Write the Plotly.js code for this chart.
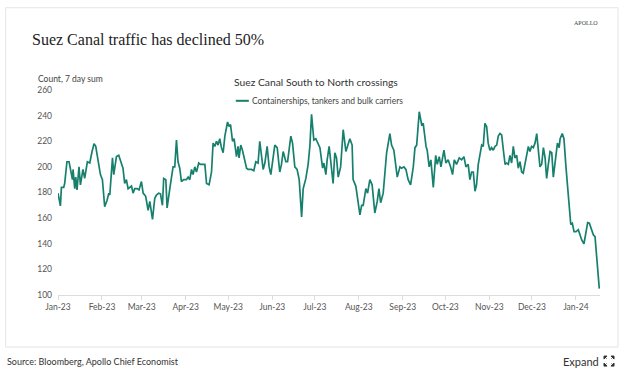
<!DOCTYPE html>
<html>
<head>
<meta charset="utf-8">
<script src="https://cdn.plot.ly/plotly-3.0.1.min.js"></script>
<style>
html,body{margin:0;padding:0;background:#fff;}
#chart{width:624px;height:376px;}
</style>
</head>
<body>
<div id="chart"></div>
<script>
// Days since 2023-01-01 and 7-day sum of crossings
var dayOffset = [0,1.7,2.4,4,4.7,6.3,7.8,9.4,10.2,10.6,11.8,12.5,13.4,14.8,15.8,17.6,18.8,20.7,22.4,24,25.4,26.6,28.2,29.9,31.3,32.9,34.6,35.8,36.5,38.4,39.3,41.2,42.8,44.2,45.8,47,48.2,49.4,51.8,52.9,54.1,55.7,57.1,58.8,60,61.8,62.8,63.5,64.7,66.6,68.2,69.4,71,72.2,73.6,74.5,76,76.9,78.8,80,81.1,82.3,83.5,84.6,85.8,87,88.6,90.5,91.7,92.9,94.1,95.2,96.4,97.6,99.2,100.4,102.3,103.5,104.7,106.5,108.2,109.3,110.5,111.7,112.8,114,115.2,116.4,117.6,119.5,120.6,121.6,123,124.1,125.8,126.9,127.6,128.8,130,131.7,132.9,134,136.4,138,139.4,141,142.2,143.4,144.6,145.8,147.4,148.8,150,151.6,152.8,154.5,156.3,157.5,158.7,160.6,161.8,164.1,165.3,166.9,168.5,170,171.7,172.8,174.7,176.3,177.5,178.7,180.3,181.7,183.4,184.6,186.5,187.4,188.8,189.7,191.1,193.9,195.1,196.3,197.5,199.2,201,202.9,205.7,207.3,208,209.9,212.8,214,215.1,217,218.2,219.8,221.4,223.3,225,226.2,227.4,229.2,231.6,232.7,233.9,235.1,236.7,238.2,239.1,241,242.2,243.8,245.2,246.8,248.5,250.4,251.6,252.8,254.6,256.3,257.4,259.4,260.2,261.6,262.8,264.5,266.2,267.3,268.7,269.9,272,273.4,275,276.7,278.1,279.3,280.9,282.8,284.5,286.1,287.5,289.1,290.3,291.5,292.7,293.9,295,296.2,297.4,298.6,299.7,300.9,302.1,303.2,304.4,305.6,306.8,308,309.2,310.3,311.5,312.7,313.9,315.1,316.2,317.4,318.5,319.7,320.9,322,323.3,324.4,325.6,326.8,327.9,329.1,330.3,331.5,332.6,333.8,335,336.2,337.4,338.5,339.7,340.9,342.1,343.3,344.4,345.6,346.8,348,349.1,350.3,352,353.2,353.9,355.4,356.6,358,359.7,361.4,362.5,363.7,365.1,366.7,367.9,369.1,370.7,372.1,373.3,374.5,375.7,377.3,378.5,379.7,380.8,381.5];
var crossings = [179.5,169.5,184,184,187,204,204,196,190,198,183,192,182,200,186,198,191,204,203,212,218,216,205,194,190,169,174,179.5,178,207,194,208,209,205,199,187,190,183,185,179.5,183,183,182,188.5,179.5,177,172,166,173,159,175.5,178,179.5,179,170,191,190,168,183,192,200,200,221,204,199,188.5,190,190,192,190,198,194,200,196,203,202,202,202,187,186,196,218.5,216,220,217,222,215,211,224,235,231.5,233,220,222,208,216,207,217,213,205.5,199,198,198,197,204,203,220,209,198,203,216,200,194,207,217,215,196,202,212,204,204,224,218.5,200,198,190,161,183,191,202,216,241,221,222,218.5,215,199,203,194,205.5,216,187,211,207,192,200,229,212,222,217,190,185,162.5,170,170,183,179.5,190,186,164,173,183,172,179.5,211,217,226,217,213,200,192,200,199,200,198,190,186,200,215,217,243,233,234,216,213,200,205.5,184,209,202,208,200,213,203,205.5,200,194,205.5,202,207,205.5,208,200,202,190,196,196,181,186,202,209,217,216,234,231.5,218.5,213,215,213,216,217,224,226,225,213,202,203,202,209,203,216,207,209,199,204,196,195,203,208,216,212,216,215,218.5,226,215,200,202,215,207,191,202,212,211,192,203,218.5,215,222,226,222,200,177,155,156,149.5,149.5,151,147,143,140,149.5,156.5,156,152,147,145.5,130,117,105];
var yTicks = [100,120,140,160,180,200,220,240,260];
var seriesName = "Containerships, tankers and bulk carriers";

function pad(n){return (n<10?"0":"")+n;}
function dayToDate(d){
  var t = new Date(Date.UTC(2023,0,1) + d*86400000);
  return t.getUTCFullYear()+"-"+pad(t.getUTCMonth()+1)+"-"+pad(t.getUTCDate())+" "+pad(t.getUTCHours())+":"+pad(t.getUTCMinutes());
}
var dates = dayOffset.map(dayToDate);

// layout geometry (pixels)
var W=624,H=376, L=58.3, R=24, T=90.2, B=81;
var PW=W-L-R, PH=H-T-B;
function px(x){return (x-L)/PW;}
function py(y){return (H-B-y)/PH;}

var SANS = "Lato, 'Open Sans', sans-serif";
var lineColor = "#17806d";

var shapes = [
  {type:"rect", xref:"paper", yref:"paper", x0:px(6), x1:px(618), y0:py(8), y1:py(347),
   line:{color:"#e4e4e4", width:1}, fillcolor:"rgba(0,0,0,0)", layer:"below"},
  {type:"line", xref:"paper", yref:"paper", x0:px(236), x1:px(249), y0:py(101), y1:py(101),
   line:{color:lineColor, width:2}}
];
// expand icon: four outward corner arrows
var cx=609, cy=361, s=5;
[[-1,-1],[1,-1],[-1,1],[1,1]].forEach(function(d){
  var ox=cx+d[0]*s, oy=cy+d[1]*s;
  var path = "M"+px(ox)+","+py(oy)+" L"+px(ox-d[0]*3)+","+py(oy)+" L"+px(ox)+","+py(oy-d[1]*3)+" Z";
  shapes.push({type:"path", xref:"paper", yref:"paper", path:path, fillcolor:"#333", line:{color:"#333", width:1}});
  shapes.push({type:"line", xref:"paper", yref:"paper", x0:px(ox), y0:py(oy), x1:px(ox-d[0]*2.5), y1:py(oy-d[1]*2.5), line:{color:"#333", width:1}});
});

var annotations = [
  {text:"Suez Canal traffic has declined 50%", xref:"paper", yref:"paper", x:px(30), y:py(40),
   xanchor:"left", yanchor:"middle", showarrow:false,
   font:{family:"'Liberation Serif', 'DejaVu Serif', serif", size:16, color:"#222"}},
  {text:"APOLLO", xref:"paper", yref:"paper", x:px(600), y:py(23), xanchor:"right", yanchor:"middle",
   showarrow:false, font:{family:"'Liberation Serif', serif", size:6, color:"#444"}},
  {text:"Count, 7 day sum", xref:"paper", yref:"paper", x:px(36), y:py(79), xanchor:"left", yanchor:"middle",
   showarrow:false, font:{family:SANS, size:8.5, color:"#444"}},
  {text:"Suez Canal South to North crossings", xref:"paper", yref:"paper", x:px(316), y:py(82),
   xanchor:"center", yanchor:"middle", showarrow:false, font:{family:SANS, size:10.3, color:"#333"}},
  {text:seriesName, xref:"paper", yref:"paper", x:px(250), y:py(101), xanchor:"left", yanchor:"middle",
   showarrow:false, font:{family:SANS, size:8.5, color:"#444"}},
  {text:"Source: Bloomberg, Apollo Chief Economist", xref:"paper", yref:"paper", x:px(5), y:py(361),
   xanchor:"left", yanchor:"middle", showarrow:false, font:{family:SANS, size:9, color:"#333"}},
  {text:"Expand", xref:"paper", yref:"paper", x:px(601), y:py(361), xanchor:"right", yanchor:"middle",
   showarrow:false, font:{family:SANS, size:11, color:"#333"}}
];

var trace = {
  x: dates, y: crossings, type:"scatter", mode:"lines", name: seriesName,
  line:{color:lineColor, width:1.7, shape:"linear"}, hoverinfo:"x+y"
};

var layout = {
  width:W, height:H,
  margin:{l:L, r:R, t:T, b:B, pad:0},
  paper_bgcolor:"#fff", plot_bgcolor:"#fff",
  showlegend:false,
  xaxis:{
    type:"date", range:[dayToDate(0), dayToDate(382)],
    tick0:"2023-01-01", dtick:"M1", tickformat:"%b-%y",
    showgrid:false, zeroline:false, showline:true, linecolor:"#dcdcdc", linewidth:1,
    ticks:"outside", ticklen:4, tickcolor:"#dcdcdc",
    tickfont:{family:SANS, size:8.5, color:"#555"}
  },
  yaxis:{
    range:[100,260], tickvals:yTicks, ticktext:yTicks.map(String),
    showgrid:false, zeroline:false, showline:false, ticks:"",
    ticklabelstandoff:5,
    tickfont:{family:SANS, size:8.5, color:"#555"}
  },
  shapes:shapes, annotations:annotations
};

Plotly.newPlot("chart", [trace], layout, {staticPlot:true, displayModeBar:false});
</script>
</body>
</html>
